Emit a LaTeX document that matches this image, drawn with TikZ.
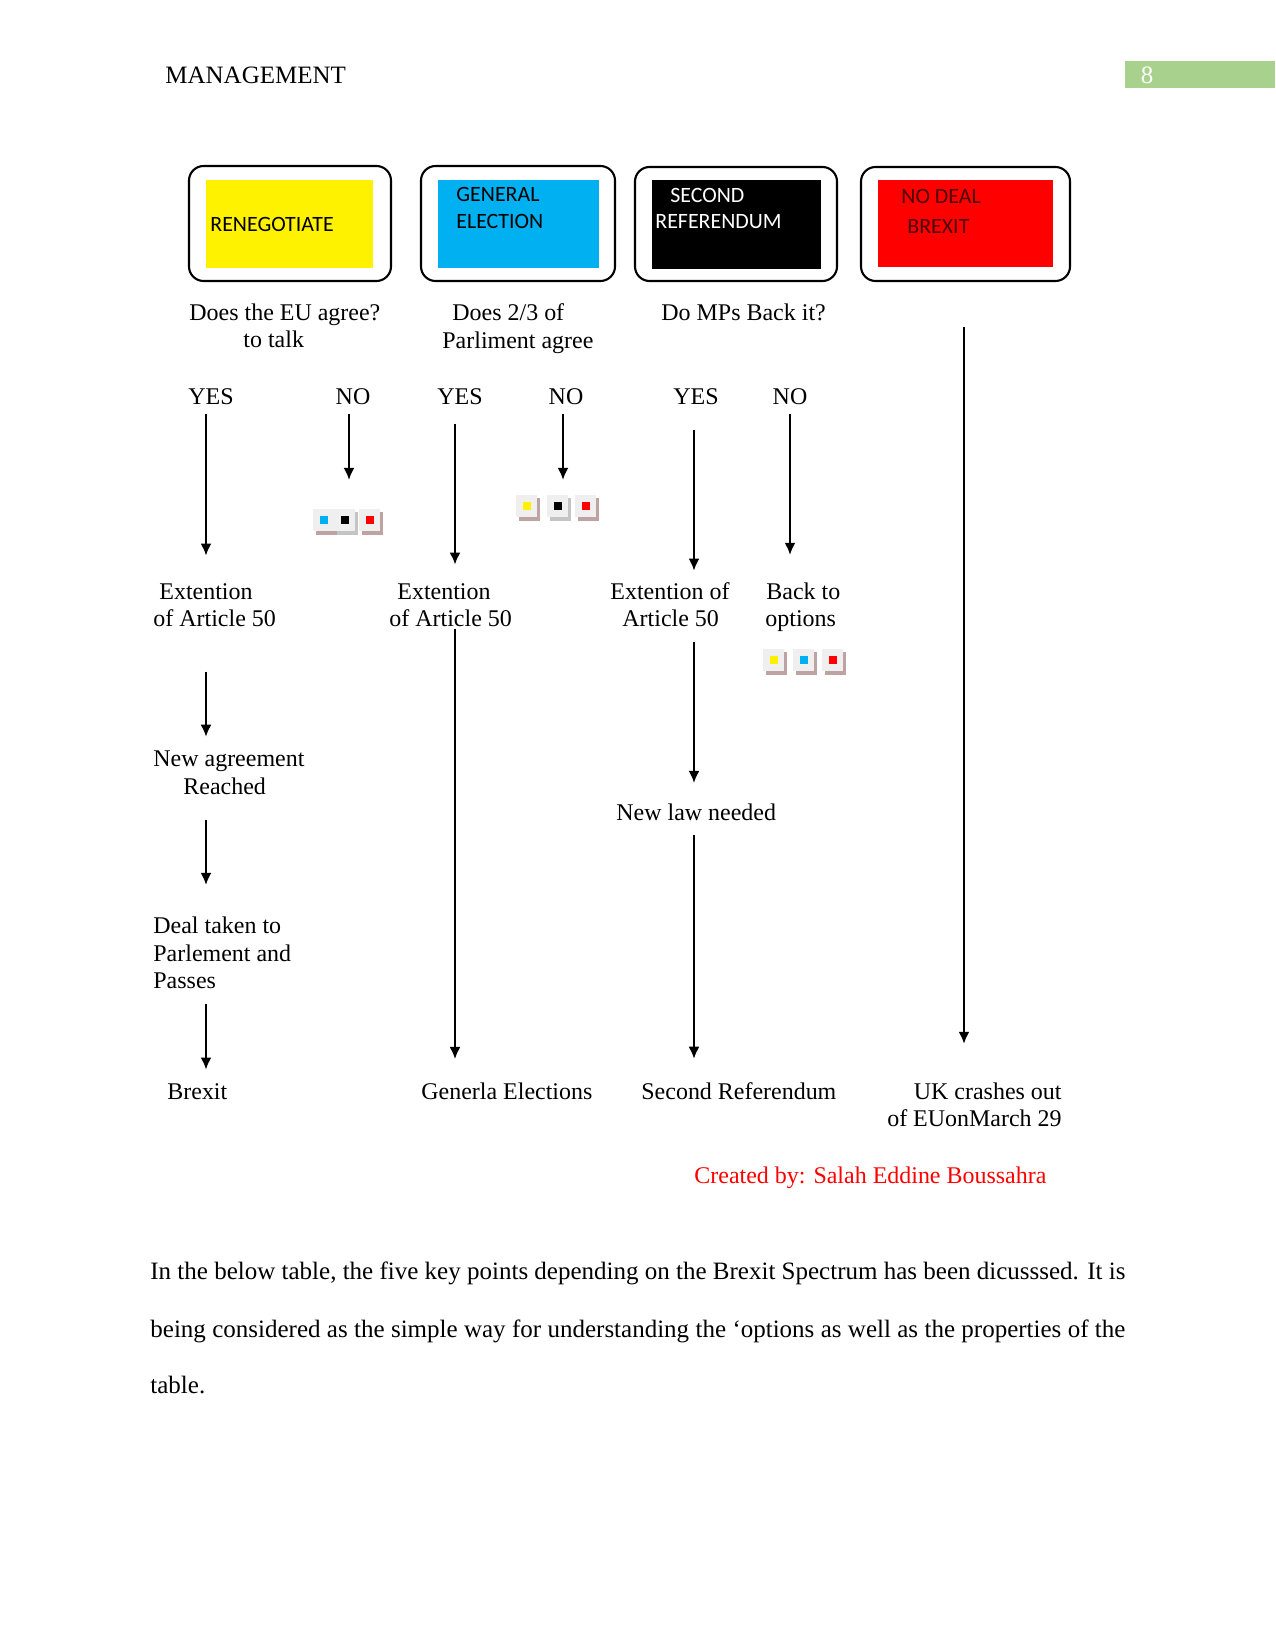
\documentclass[tikz,border=0pt]{standalone}
\usepackage{fontspec}
\setmainfont{Liberation Serif}
\newfontfamily\boxfont{Carlito}
\usetikzlibrary{arrows.meta}
\definecolor{pgreen}{HTML}{A9D18E}
\definecolor{cyanb}{HTML}{00B0F0}
\definecolor{darkr}{HTML}{4A0000}
\definecolor{iconbg}{HTML}{EFEFEF}
\definecolor{iconsh}{HTML}{BFA3A3}
\definecolor{iconshg}{HTML}{C4C4C4}
\tikzset{
  lbl/.style={anchor=base west, inner sep=0pt, font=\fontsize{11.5}{13}\selectfont},
  lblr/.style={anchor=base east, inner sep=0pt, font=\fontsize{11.5}{13}\selectfont},
  yn/.style={anchor=base, inner sep=0pt, font=\fontsize{11.5}{13}\selectfont},
  bx/.style={anchor=base west, inner sep=0pt, font=\boxfont\fontsize{10.5}{12}\selectfont},
  body/.style={anchor=base west, inner sep=0pt, font=\fontsize{12}{14}\selectfont},
  arr/.style={line width=1pt, -{Latex[length=5.8pt,width=5.3pt]}},
  outerbox/.style={draw, line width=1pt, rounded corners=7pt, inner sep=0pt, fill=white},
  innerbox/.style={inner sep=0pt, draw=none},
  pics/icon/.style 2 args={code={
    \fill[#2] (-8,-9) rectangle (13,14);
    \fill[iconbg] (-11,-12) rectangle (10,10);
    \fill[#1] (-4,-5) rectangle (4,3);
  }}
}
\begin{document}
\begin{tikzpicture}[x=0.48pt,y=-0.48pt]
\useasboundingbox (0,0) rectangle (1275,1650);
\fill[white] (0,0) rectangle (1275,1650);

% header
\node[body] (hdr) at (165,84) {MANAGEMENT};
\fill[pgreen] (1125,61) rectangle (1275,88);
\node[anchor=base, inner sep=0pt, font=\fontsize{12}{14}\selectfont, text=white] (pg) at (1147,84) {8};

% top boxes
\node[outerbox, minimum width=202*0.48pt, minimum height=115*0.48pt] (b1) at (290,223.5) {};
\node[innerbox, fill=yellow, minimum width=167*0.48pt, minimum height=88*0.48pt] (f1) at (289.5,224) {};
\node[bx] (t1) at (210,232) {RENEGOTIATE};

\node[outerbox, minimum width=194*0.48pt, minimum height=115*0.48pt] (b2) at (518,223.5) {};
\node[innerbox, fill=cyanb, minimum width=161*0.48pt, minimum height=88*0.48pt] (f2) at (518.5,224) {};
\node[bx] (t2a) at (456,202) {GENERAL};
\node[bx] (t2b) at (456,229) {ELECTION};

\node[outerbox, minimum width=202*0.48pt, minimum height=114*0.48pt] (b3) at (736,224) {};
\node[innerbox, fill=black, minimum width=169*0.48pt, minimum height=89*0.48pt] (f3) at (736.5,224.5) {};
\node[bx, text=white] (t3a) at (670,203) {SECOND};
\node[bx, text=white] (t3b) at (655,229) {REFERENDUM};

\node[outerbox, minimum width=209*0.48pt, minimum height=114*0.48pt] (b4) at (965.5,224) {};
\node[innerbox, fill=red, minimum width=175*0.48pt, minimum height=87*0.48pt] (f4) at (965.5,223.5) {};
\node[bx, text=darkr] (t4a) at (901,204) {NO DEAL};
\node[bx, text=darkr] (t4b) at (907,234) {BREXIT};

% questions
\node[lbl] (q1a) at (189,321) {Does the EU agree?};
\node[lbl] (q1b) at (243,348) {to talk};
\node[lbl] (q2a) at (452,321) {Does 2/3 of};
\node[lbl] (q2b) at (442,349) {Parliment agree};
\node[lbl] (q3a) at (661,321) {Do MPs Back it?};

% yes / no
\node[yn] (yes1) at (211,405) {YES};
\node[yn] (no1) at (353,405) {NO};
\node[yn] (yes2) at (460,405) {YES};
\node[yn] (no2) at (566,405) {NO};
\node[yn] (yes3) at (696,405) {YES};
\node[yn] (no3) at (790,405) {NO};

% icons
\coordinate (ic1) at (345,521);
\pic at (324,521) {icon={cyanb}{iconsh}};
\pic at (345,521) {icon={black}{iconshg}};
\pic at (370,521) {icon={red}{iconsh}};
\coordinate (ic2) at (556,507);
\pic at (527,507) {icon={yellow}{iconsh}};
\pic at (558,507) {icon={black}{iconshg}};
\pic at (586,507) {icon={red}{iconsh}};
\coordinate (ic3) at (804,661);
\pic at (774,661) {icon={yellow}{iconsh}};
\pic at (804,661) {icon={cyanb}{iconsh}};
\pic at (833,661) {icon={red}{iconsh}};

% second level
\node[lbl] (ext1a) at (159,599) {Extention};
\node[lbl] (ext1b) at (153,626) {of Article 50};
\node[lbl] (ext2a) at (397,599) {Extention};
\node[lbl] (ext2b) at (389,626) {of Article 50};
\node[lbl] (ext3a) at (610,599) {Extention of};
\node[lbl] (ext3b) at (622,626) {Article 50};
\node[lbl] (back1) at (766,599) {Back to};
\node[lbl] (back2) at (765,626) {options};

% column 1
\node[lbl] (new1) at (153,766) {New agreement};
\node[lbl] (new2) at (183,794) {Reached};
\node[lbl] (deal1) at (153,933) {Deal taken to};
\node[lbl] (deal2) at (153,961) {Parlement and};
\node[lbl] (deal3) at (153,988) {Passes};
\node[lbl] (brexit) at (167,1099) {Brexit};

% column 3
\node[lbl] (newlaw) at (616,820) {New law needed};

% bottom row
\node[lbl] (gen) at (421,1099) {Generla Elections};
\node[lbl] (second) at (641,1099) {Second Referendum};
\node[lblr] (uk1) at (1062,1099) {UK crashes out};
\node[lblr] (uk2) at (1062,1126) {of EUonMarch 29};

\node[lbl, text=red] (credit) at (694,1183) {Created by: Salah Eddine Boussahra};

% column x coordinates
\coordinate (xa) at (206,0);
\coordinate (xb) at (349,0);
\coordinate (xc) at (455,0);
\coordinate (xd) at (563,0);
\coordinate (xe) at (694,0);
\coordinate (xf) at (790,0);
\coordinate (xg) at (964,0);

% arrows
\draw[arr, shorten <=3.8pt, shorten >=13pt] (yes1.south -| xa) -- (ext1a.north -| xa);
\draw[arr, shorten <=3.8pt, shorten >=19.7pt] (no1.south -| xb) -- (ic1 -| xb);
\draw[arr, shorten <=8.6pt, shorten >=8.7pt] (yes2.south -| xc) -- (ext2a.north -| xc);
\draw[arr, shorten <=3.8pt, shorten >=13pt] (no2.south -| xd) -- (ic2 -| xd);
\draw[arr, shorten <=11.5pt, shorten >=5.3pt] (yes3.south -| xe) -- (ext3a.north -| xe);
\draw[arr, shorten <=3.8pt, shorten >=13pt] (no3.south -| xf) -- (back1.north -| xf);
\draw[arr, shorten <=21.6pt, shorten >=18.3pt] (b4.south -| xg) -- (uk1.north -| xg);

\draw[arr, shorten <=21.6pt, shorten >=6.3pt] (ext1b.south -| xa) -- (new1.north -| xa);
\draw[arr, shorten <=12pt, shorten >=14.9pt] (new2.south -| xa) -- (deal1.north -| xa);
\draw[arr, shorten <=7.2pt, shorten >=6.3pt] (deal3.south -| xa) -- (brexit.north -| xa);

\draw[arr, shorten <=0.9pt, shorten >=11pt] (ext2b.south -| xc) -- (gen.north -| xc);

\draw[arr, shorten <=7.6pt, shorten >=9.6pt] (ext3b.south -| xe) -- (newlaw.north -| xe);
\draw[arr, shorten <=6.7pt, shorten >=11pt] (newlaw.south -| xe) -- (second.north -| xe);

% body text
\node[body] (p1) at (150,1279) {\makebox[468pt][s]{In the below table, the five key points depending on the Brexit Spectrum has been dicusssed. It is}};
\node[body] (p2) at (150,1337) {\makebox[468pt][s]{being considered as the simple way for understanding the ‘options as well as the properties of the}};
\node[body] (p3) at (150,1393) {table.};
\end{tikzpicture}
\end{document}
